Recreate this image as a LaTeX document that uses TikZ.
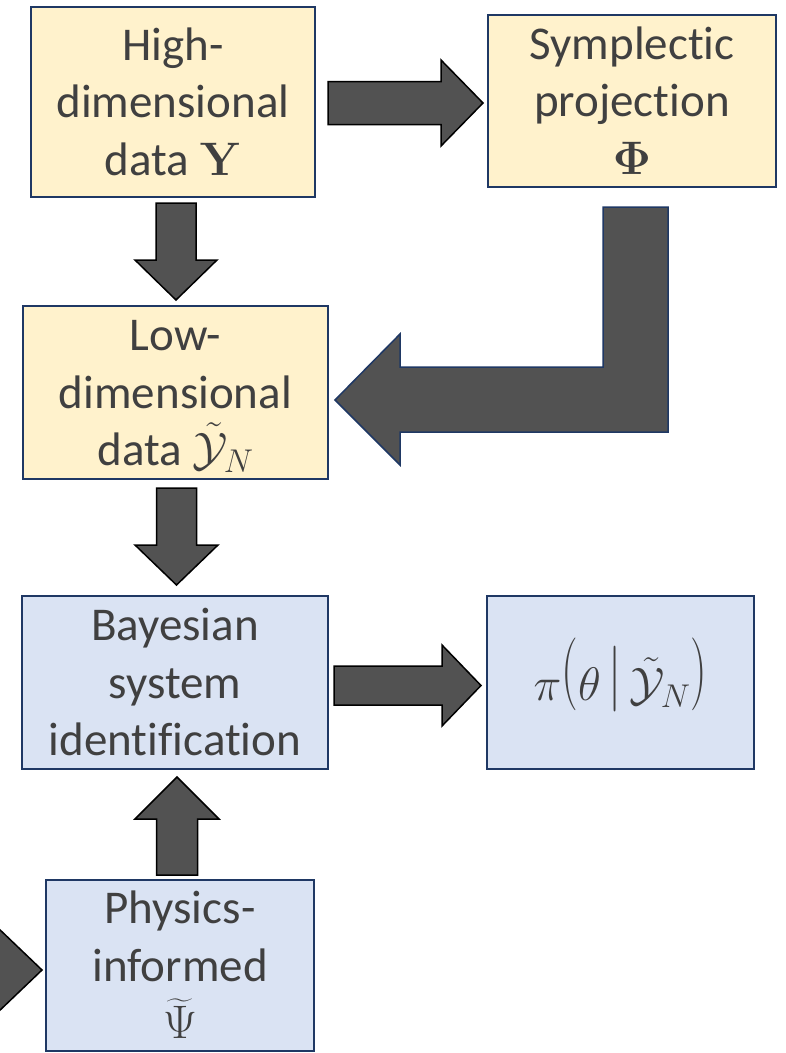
\documentclass[tikz,border=0pt]{standalone}
\usepackage{fix-cm}
\usepackage{amsmath}
\usepackage{graphicx}
\usepackage[no-math]{fontspec}
\setmainfont{Carlito}[Ligatures=NoCommon]
\usetikzlibrary{calc}
\definecolor{yfill}{HTML}{FFF2CC}
\definecolor{bfill}{HTML}{DAE3F3}
\definecolor{navy}{HTML}{1F3864}
\definecolor{arrowgray}{HTML}{525252}
\definecolor{txtgray}{HTML}{404040}
\tikzset{
  boxbase/.style={draw=navy, line width=1.5pt, inner sep=0pt, outer sep=0pt,
    align=center, text=txtgray, font=\fontsize{47}{57.5}\selectfont,
    text height=146pt, text depth=0pt},
  ybox/.style={boxbase, fill=yfill},
  bbox/.style={boxbase, fill=bfill},
  blockarrow/.style={fill=arrowgray, draw=black, line width=1.5pt, line join=miter},
  bigarrow/.style={fill=arrowgray, draw=navy, line width=1.5pt, line join=miter}
}
\newcommand\tallparen[1]{\raisebox{8pt}{\scalebox{1}[1.55]{$#1$}}}
\newcommand\tallbar{\raisebox{5pt}{\scalebox{1}[1.4]{$|$}}}
% #1 start, #2 end, #3 shaft half width, #4 head half width, #5 head length
\newcommand\blkarrow[5]{%
  \path[blockarrow] let \p1=($(#2)-(#1)$), \n1={atan2(\y1,\x1)}, \n2={veclen(\x1,\y1)} in
    [shift={(#1)}, rotate=\n1]
    (0,#3) -- ({\n2-#5},#3) -- ({\n2-#5},#4) -- (\n2,0) -- ({\n2-#5},-#4)
    -- ({\n2-#5},-#3) -- (0,-#3) -- cycle;
}
\begin{document}
\begin{tikzpicture}[x=1pt, y=-1pt]
\clip (0,0) rectangle (786,1053);
\fill[white] (0,0) rectangle (786,1053);

% boxes
\node[ybox, minimum width=284pt, minimum height=190pt] (high) at (173,102)
  {High-\\dimensional\\data $\mathbf{Y}$};
\node[ybox, minimum width=288pt, minimum height=172pt] (symp) at (632,101)
  {Symplectic\\projection\\$\mathbf{\Phi}$};
\node[ybox, minimum width=305pt, minimum height=173pt] (low) at (175.5,392.5)
  {Low-\\dimensional\\data $\tilde{\mathcal{Y}}_N$};
\node[bbox, minimum width=306pt, minimum height=173pt] (bayes) at (175,682.5)
  {Bayesian\\system\\identification};
\node[bbox, minimum width=267pt, minimum height=173pt, text height=36pt] (post) at (620.5,682.5)
  {$\pi\mathopen{\tallparen{(}}\theta\,\tallbar\,\tilde{\mathcal{Y}}_N\mathclose{\tallparen{)}}$};
\node[bbox, minimum width=268pt, minimum height=171pt] (phys) at (180,965.5)
  {Physics-\\informed\\$\widetilde{\Psi}$};

% connector end points
\coordinate (a1s) at (328,103);   \coordinate (a1e) at (483,103);
\coordinate (a2s) at (176,203);   \coordinate (a2e) at (176,300);
\coordinate (a4s) at (176.5,488); \coordinate (a4e) at (176.5,585);
\coordinate (a5s) at (334,685.5); \coordinate (a5e) at (481,685.5);
\coordinate (a6s) at (177,875);   \coordinate (a6e) at (177,777);
\coordinate (a7s) at (-60,970);   \coordinate (a7e) at (42,970);

\blkarrow{a1s}{a1e}{21.5}{43}{42}
\blkarrow{a2s}{a2e}{20}{41}{40}
\blkarrow{a4s}{a4e}{20}{41.5}{40}
\blkarrow{a5s}{a5e}{19.5}{40.5}{39}
\blkarrow{a6s}{a6e}{20.5}{42}{42}
\blkarrow{a7s}{a7e}{22}{43}{45}

% bent arrow from the projection to the low-dimensional data
\coordinate (ls) at (635.5,207);
\coordinate (le) at (335,400);
\draw[bigarrow] (603,207) -- (668,207) -- (668,432) -- (400,432) -- (400,465)
  -- (le) -- (400,334) -- (400,367) -- (603,367) -- cycle;
\end{tikzpicture}
\end{document}
